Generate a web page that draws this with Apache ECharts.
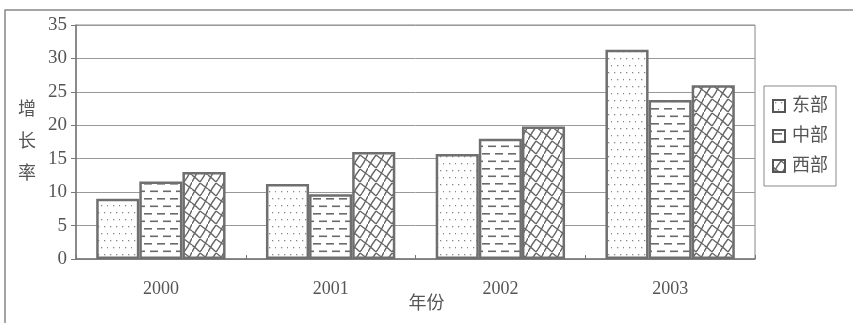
<!DOCTYPE html>
<html>
<head>
<meta charset="utf-8">
<script src="https://cdn.jsdelivr.net/npm/echarts@6/dist/echarts.min.js"></script>
<style>
  html, body { margin: 0; padding: 0; background: #fff; }
  #chart { width: 853px; height: 323px; }
</style>
</head>
<body>
<div id="chart"></div>
<script>
// Growth rate by region, 2000-2003
const years = ['2000', '2001', '2002', '2003'];
const seriesNames = ['东部', '中部', '西部'];
const east = [9, 11.2, 15.7, 31.3];
const central = [11.6, 9.7, 18, 23.8];
const west = [13, 16, 19.8, 26];

const INK = '#6f6f6f';
const TEXT = '#555';
const FONT = '"Liberation Serif", "Noto Sans CJK SC", serif';

// Hatch fills drawn on small tiles and repeated across each bar
function tile(w, h, draw) {
  const c = document.createElement('canvas');
  c.width = w; c.height = h;
  const ctx = c.getContext('2d');
  ctx.fillStyle = '#fff';
  ctx.fillRect(0, 0, w, h);
  ctx.strokeStyle = '#777';
  ctx.fillStyle = '#888';
  draw(ctx);
  return { image: c, repeat: 'repeat' };
}

const dots = tile(12, 14, ctx => {
  ctx.fillRect(2, 2, 1.3, 1.3);
  ctx.fillRect(8, 2, 1.3, 1.3);
  ctx.fillRect(5, 9, 1.3, 1.3);
  ctx.fillRect(11, 9, 1.3, 1.3);
});

const dashes = tile(26, 15, ctx => {
  ctx.fillStyle = '#6a6a6a';
  ctx.fillRect(1, 3, 8, 1.6);
  ctx.fillRect(14, 3, 8, 1.6);
  ctx.fillRect(7, 10.5, 8, 1.6);
  ctx.fillRect(20, 10.5, 6, 1.6);
  ctx.fillRect(0, 10.5, 2, 1.6);
});

const weave = tile(16, 14, ctx => {
  ctx.lineWidth = 1.4;
  ctx.strokeStyle = '#666';
  ctx.beginPath();
  ctx.moveTo(0, 14); ctx.quadraticCurveTo(4, 6, 8, 1);
  ctx.moveTo(8, 1); ctx.quadraticCurveTo(12, 4, 16, 7);
  ctx.moveTo(0, 7); ctx.quadraticCurveTo(4, 10, 8, 14);
  ctx.moveTo(8, 14); ctx.quadraticCurveTo(12, 9, 16, 0);
  ctx.stroke();
});

const fills = [dots, dashes, weave];
const values = [east, central, west];

const chart = echarts.init(document.getElementById('chart'));
chart.setOption({
  animation: false,
  backgroundColor: '#fff',
  graphic: [{
    type: 'rect',
    shape: { x: 5, y: 10, width: 900, height: 400 },
    style: { fill: 'none', stroke: '#888', lineWidth: 1.5 },
    silent: true,
    z: -1
  }],
  grid: {
    left: 76, top: 25, right: 98, bottom: 64,
    outerBoundsMode: 'none',
    containLabel: false,
    show: true, borderColor: '#888', borderWidth: 1, backgroundColor: 'transparent'
  },
  legend: {
    orient: 'vertical',
    left: 764, top: 86,
    width: 80,
    padding: [11, 8, 11, 8],
    itemGap: 12,
    itemWidth: 12, itemHeight: 12,
    borderColor: '#888', borderWidth: 1,
    icon: 'rect',
    itemStyle: { borderColor: '#555', borderWidth: 2 },
    textStyle: { fontFamily: FONT, fontSize: 18, color: TEXT, padding: [0, 0, 0, 2] },
    data: seriesNames
  },
  xAxis: {
    type: 'category',
    data: years,
    name: '年份',
    nameLocation: 'middle',
    nameGap: 36,
    nameMoveOverlap: false,
    nameTextStyle: { fontFamily: FONT, fontSize: 18, color: TEXT, padding: [0, 0, 0, 22] },
    axisLine: { lineStyle: { color: '#777', width: 1.5 } },
    axisTick: { show: true, inside: true, length: 4, lineStyle: { color: '#777' } },
    axisLabel: { margin: 21, fontFamily: FONT, fontSize: 18, color: TEXT }
  },
  yAxis: {
    type: 'value',
    min: 0, max: 35, interval: 5,
    name: '增\n长\n率',
    nameLocation: 'middle',
    nameRotate: 0,
    nameGap: 40,
    nameMoveOverlap: false,
    nameTextStyle: { fontFamily: FONT, fontSize: 18, color: TEXT, lineHeight: 32 },
    axisLine: { show: true, lineStyle: { color: '#777', width: 1.5 } },
    axisTick: { show: true, length: 5, lineStyle: { color: '#777' } },
    axisLabel: { margin: 9, fontFamily: FONT, fontSize: 19, color: TEXT },
    splitLine: { lineStyle: { color: '#999', width: 1 } }
  },
  series: seriesNames.map((name, i) => ({
    name,
    type: 'bar',
    data: values[i],
    barWidth: '25.4%',
    barGap: '0%',
    itemStyle: { color: fills[i], borderColor: INK, borderWidth: 2.5 }
  }))
});
</script>
</body>
</html>
